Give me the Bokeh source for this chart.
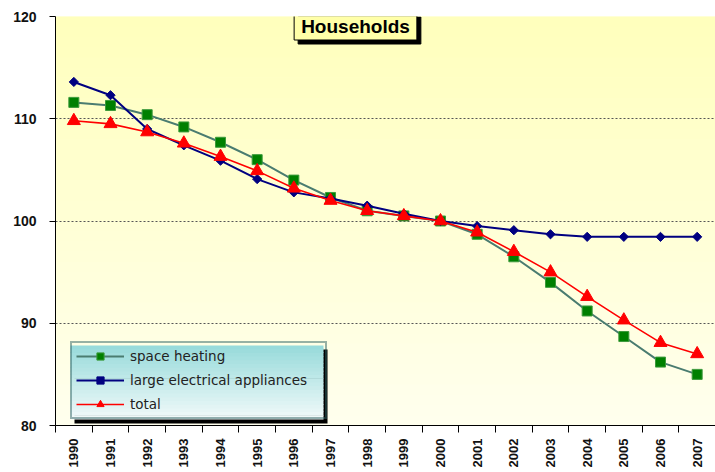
import numpy as np
from bokeh.plotting import figure
from bokeh.models import FixedTicker, BoxAnnotation, Label, Legend, LegendItem, Range1d
from bokeh.embed import file_html
from bokeh.resources import INLINE

# ---------------- data ----------------
years = ["1990", "1991", "1992", "1993", "1994", "1995", "1996", "1997", "1998",
         "1999", "2000", "2001", "2002", "2003", "2004", "2005", "2006", "2007"]
space_heating = [111.6, 111.3, 110.4, 109.2, 107.7, 106.0, 104.0, 102.3, 101.0,
                 100.5, 100.0, 98.7, 96.5, 94.0, 91.2, 88.7, 86.2, 85.0]
large_appliances = [113.6, 112.3, 109.0, 107.4, 105.9, 104.1, 102.8, 102.2, 101.5,
                    100.7, 100.0, 99.5, 99.1, 98.7, 98.45, 98.45, 98.45, 98.45]
total = [109.8, 109.5, 108.7, 107.6, 106.3, 104.9, 103.2, 102.0, 101.0,
         100.5, 100.0, 98.9, 97.0, 95.0, 92.6, 90.3, 88.1, 87.0]
y_ticks = [80, 90, 100, 110, 120]
title_text = "Households"

xs = list(range(len(years)))

# ---------------- geometry ----------------
W, H = 715, 470
B_LEFT, B_RIGHT, B_TOP, B_BOTTOM = 55, 0, 16, 45
FW = W - B_LEFT - B_RIGHT
FH = H - B_TOP - B_BOTTOM
X0, X1 = -0.5, len(years) - 0.5
Y0, Y1 = 80, 120
ppx = FW / (X1 - X0)
ppy = FH / (Y1 - Y0)

def dx(px):  # frame-relative px from left -> data x
    return X0 + px / ppx

def dy(px):  # frame-relative px from bottom -> data y
    return Y0 + px / ppy

p = figure(width=W, height=H, x_range=Range1d(X0, X1), y_range=Range1d(Y0, Y1),
           output_backend="svg", toolbar_location=None,
           min_border_left=B_LEFT, min_border_right=B_RIGHT,
           min_border_top=B_TOP, min_border_bottom=B_BOTTOM,
           background_fill_color="#FFFFE4", border_fill_color="white",
           outline_line_color=None)

# background gradient (yellow, darker at top)
nb = 40
c_top = np.array([255, 255, 188])
c_bot = np.array([255, 255, 238])
for i in range(nb):
    t = (i + 0.5) / nb
    c = c_bot + (c_top - c_bot) * t
    col = "#%02x%02x%02x" % tuple(int(round(v)) for v in c)
    p.add_layout(BoxAnnotation(bottom=Y0 + (Y1 - Y0) * i / nb, top=Y0 + (Y1 - Y0) * (i + 1) / nb + 0.06,
                               fill_color=col, fill_alpha=1, line_alpha=0, level="image"))

# axes
p.xaxis.axis_label = None
p.yaxis.axis_label = None
p.xaxis.ticker = FixedTicker(ticks=xs, minor_ticks=[i - 0.5 for i in range(len(years) + 1)])
p.xaxis.major_label_overrides = {i: y for i, y in zip(xs, years)}
p.xaxis.major_label_orientation = np.pi / 2
p.xaxis.major_tick_out = 0
p.xaxis.major_tick_in = 0
p.xaxis.minor_tick_out = 7
p.xaxis.minor_tick_in = 0
p.xaxis.minor_tick_line_color = "black"
p.xaxis.major_label_standoff = 6
p.xaxis.major_label_text_font = "Liberation Sans"
p.xaxis.major_label_text_font_style = "bold"
p.xaxis.major_label_text_font_size = "13px"
p.xaxis.major_label_text_color = "#111111"
p.xaxis.axis_line_color = "black"

p.yaxis.ticker = FixedTicker(ticks=y_ticks, minor_ticks=[])
p.yaxis.major_tick_out = 6
p.yaxis.major_tick_in = 0
p.yaxis.major_label_standoff = 13
p.yaxis.major_label_text_font = "Liberation Sans"
p.yaxis.major_label_text_font_style = "bold"
p.yaxis.major_label_text_font_size = "14px"
p.yaxis.major_label_text_color = "#111111"
p.yaxis.axis_line_color = "black"
p.yaxis.major_tick_line_color = "black"

p.xgrid.visible = False
p.ygrid.ticker = FixedTicker(ticks=y_ticks)
p.ygrid.grid_line_color = "#555555"
p.ygrid.grid_line_dash = "2 2"
p.ygrid.grid_line_width = 1

# series
l1 = p.line(xs, space_heating, line_color="#4A7C70", line_width=2)
m1 = p.scatter(xs, space_heating, marker="square", size=10, fill_color="#008000",
               line_color="#3C9A3C", line_width=1)
l2 = p.line(xs, large_appliances, line_color="#000080", line_width=2)
m2 = p.scatter(xs, large_appliances, marker="square", angle=np.pi / 4, size=6.5,
               fill_color="#000080", line_color="#000080")
l3 = p.line(xs, total, line_color="#FF0000", line_width=1.6)
m3 = p.scatter(xs, total, marker="triangle", size=13, fill_color="#FF0000",
               line_color="#FF0000")

# legend background (shadow + cyan gradient)
LG_L, LG_B, LG_W, LG_H = 15, 6, 253, 74
p.add_layout(BoxAnnotation(left=dx(LG_L + 4), right=dx(LG_L + LG_W + 4),
                           bottom=dy(LG_B - 4), top=dy(LG_B + LG_H - 4),
                           fill_color="black", fill_alpha=1, line_alpha=0))
ng = 20
g_top = np.array([150, 218, 218])
g_bot = np.array([242, 250, 250])
for i in range(ng):
    t = (i + 0.5) / ng
    c = g_bot + (g_top - g_bot) * t
    col = "#%02x%02x%02x" % tuple(int(round(v)) for v in c)
    top = dy(LG_B + LG_H * (i + 1) / ng) + (0.06 if i < ng - 1 else 0)
    p.add_layout(BoxAnnotation(left=dx(LG_L), right=dx(LG_L + LG_W),
                               bottom=dy(LG_B + LG_H * i / ng), top=top,
                               fill_color=col, fill_alpha=1, line_alpha=0))

legend = Legend(items=[LegendItem(label="space heating", renderers=[l1, m1]),
                       LegendItem(label="large electrical appliances", renderers=[l2, m2]),
                       LegendItem(label="total", renderers=[l3, m3])],
                location=(LG_L, LG_B), padding=4, spacing=6, margin=0,
                glyph_height=18, glyph_width=48, label_height=18, label_width=191,
                label_standoff=6, label_text_font="DejaVu Sans",
                label_text_font_size="13.5px", label_text_color="#222222",
                border_line_color="#2F6464", border_line_width=2,
                background_fill_alpha=0)
p.add_layout(legend)

# title box with shadow
tx = dx(300)
ty = dy(FH - 10)
for shadow in (True, False):
    p.add_layout(Label(x=tx, y=ty, x_offset=4 if shadow else 0, y_offset=-4 if shadow else 0,
                       text=title_text, text_align="center", text_baseline="middle",
                       text_font="Liberation Sans", text_font_style="bold",
                       text_font_size="19px", text_color="black",
                       background_fill_color="black" if shadow else "#FFFFA8",
                       border_line_color="black", border_line_width=1,
                       padding=(7, 3)))

open("out.html", "w").write(file_html(p, INLINE))
